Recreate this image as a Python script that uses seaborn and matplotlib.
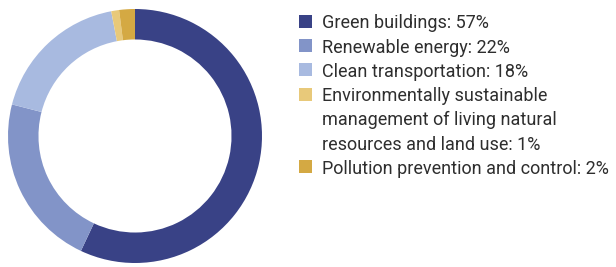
import matplotlib
matplotlib.use("Agg")
import matplotlib.pyplot as plt
from matplotlib.patches import Rectangle
import seaborn as sns

categories = [
    "Green buildings",
    "Renewable energy",
    "Clean transportation",
    "Environmentally sustainable\nmanagement of living natural\nresources and land use",
    "Pollution prevention and control",
]
shares = [57, 22, 18, 1, 2]
colors = ["#394286", "#8294C8", "#A8BAE0", "#E8C97A", "#D4A943"]

sns.set_style("white")
plt.rcParams["font.family"] = ["Roboto", "DejaVu Sans"]

W, H = 616, 267
fig = plt.figure(figsize=(W / 100, H / 100), dpi=100)

# donut: centre (135, 136) px, outer radius 127 px
cx, cy, r = 135, 136, 127
ax = fig.add_axes([(cx - r) / W, (H - cy - r) / H, 2 * r / W, 2 * r / H])
wedges, _ = ax.pie(shares, colors=sns.color_palette(colors), startangle=90,
                   counterclock=False, radius=1,
                   wedgeprops=dict(width=0.24, linewidth=0))
ax.set_xlim(-1, 1)
ax.set_ylim(-1, 1)
ax.set_aspect("equal")

# legend, drawn by hand so the square sits on the first line of each entry
pitch = 24.2
y = 21.5
for c, s, col in zip(categories, shares, colors):
    lines = f"{c}: {s}%".split("\n")
    fig.patches.append(Rectangle((299 / W, 1 - (y + 6.5) / H), 13 / W, 13 / H,
                                 transform=fig.transFigure, color=col, lw=0))
    for ln in lines:
        fig.text(322 / W, 1 - y / H, ln, fontsize=13, color="#2e2e2e",
                 va="center_baseline", ha="left")
        y += pitch

fig.savefig("out.png", dpi=100)
